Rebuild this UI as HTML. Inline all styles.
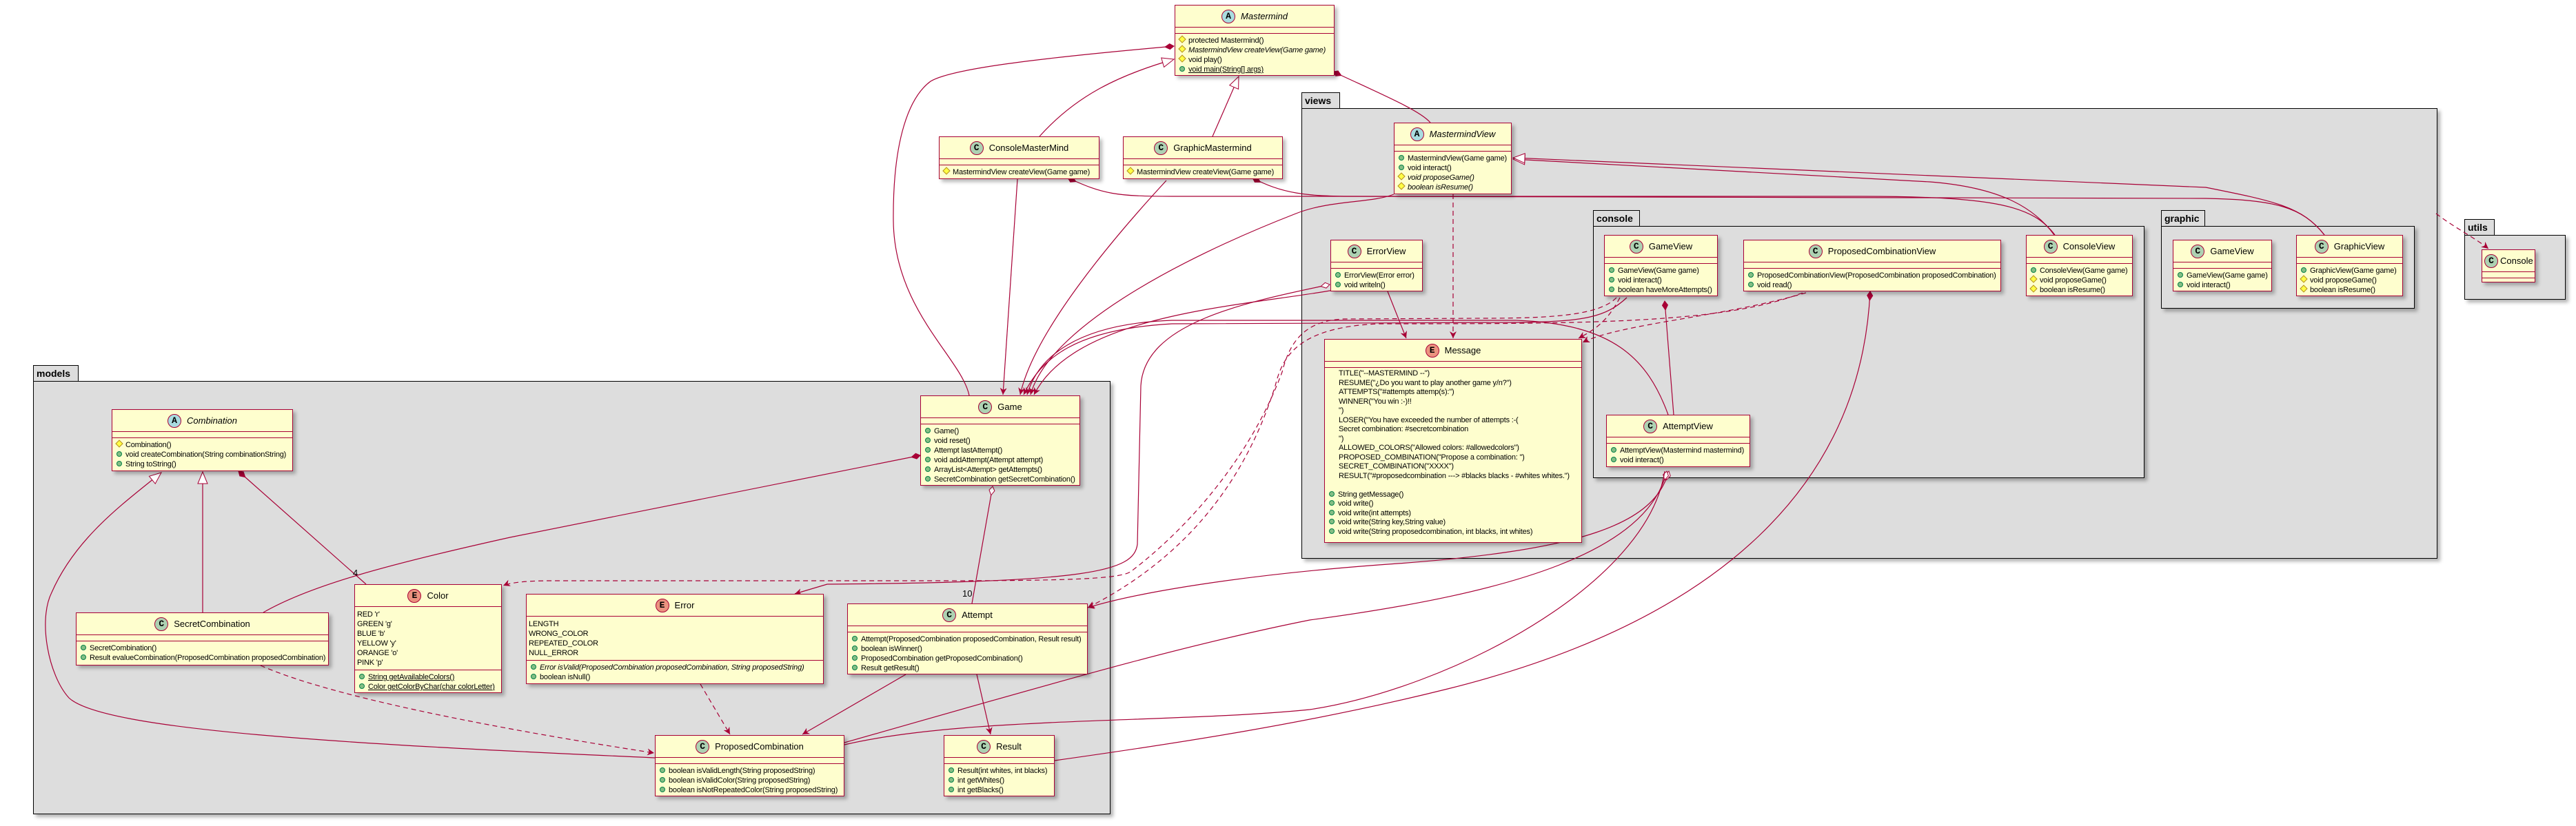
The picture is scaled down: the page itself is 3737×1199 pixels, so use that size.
<!DOCTYPE html>
<html><head><meta charset="utf-8"><style>
body{margin:0;width:3737px;height:1199px;background:#fff;position:relative;overflow:hidden;font-family:"Liberation Sans",sans-serif}
.p{position:absolute;background:#DDDDDD;border:1.5px solid #000;box-shadow:4px 4px 5px rgba(0,0,0,.3);box-sizing:border-box}
.t{position:absolute;background:#DDDDDD;border:1.5px solid #000;border-bottom:none;box-sizing:border-box;font:bold 14px "Liberation Sans",sans-serif;padding:3px 0 0 4px;height:24px}
.c{position:absolute;background:#FEFECE;border:1.5px solid #A80036;box-shadow:4px 4px 5px rgba(0,0,0,.28);box-sizing:border-box;font-size:11px;color:#000}
.h{height:31px;display:flex;align-items:center;justify-content:center;font-size:13px;border-bottom:1.5px solid #A80036;white-space:nowrap}
.h.it span{font-style:italic}
.ic{width:20px;height:20px;border-radius:50%;border:1px solid #A80036;font:bold 13px "Liberation Mono",monospace;display:inline-flex;align-items:center;justify-content:center;margin-right:8px;box-sizing:border-box}
.A{background:#A9DCDF}.C{background:#ADD1B2}.E{background:#EB937F}
.e{height:8px;border-bottom:1.5px solid #A80036}
.m{padding:3px 4px 2px 6px}
.r{height:14px;line-height:14px;white-space:nowrap;letter-spacing:-0.2px}
.msg .r{height:13.5px;line-height:13.5px}
.it2{font-style:italic}
.u{text-decoration:underline}
i.g{display:inline-block;width:6px;height:6px;border-radius:50%;background:#84BE84;border:1px solid #038048;margin-right:5px;vertical-align:0px}
i.y{display:inline-block;width:6px;height:6px;background:#FFFF44;border:1px solid #B38D22;transform:rotate(45deg);margin-right:5px;vertical-align:1px}
.sep{border-bottom:1.5px solid #A80036}
svg{position:absolute;left:0;top:0}
</style></head><body>

<div class="t" style="left:1888px;top:134px;width:56px">views</div>
<div class="p" style="left:1888px;top:157px;width:1648px;height:654px"></div>
<div class="t" style="left:2311px;top:305px;width:68px">console</div>
<div class="p" style="left:2311px;top:328px;width:800px;height:366px"></div>
<div class="t" style="left:3135px;top:305px;width:64px">graphic</div>
<div class="p" style="left:3135px;top:328px;width:368px;height:120px"></div>
<div class="t" style="left:3575px;top:318px;width:44px">utils</div>
<div class="p" style="left:3575px;top:341px;width:147px;height:94px"></div>
<div class="t" style="left:48px;top:530px;width:66px">models</div>
<div class="p" style="left:48px;top:553px;width:1563px;height:629px"></div>

<svg width="3737" height="1199" viewBox="0 0 3737 1199">
<defs>
<marker id="ar" markerUnits="userSpaceOnUse" markerWidth="12" markerHeight="10" refX="10" refY="5" orient="auto"><path d="M0,0 L10,5 L0,10 L3,5 z" fill="#A80036"/></marker>
<marker id="df" markerUnits="userSpaceOnUse" markerWidth="16" markerHeight="10" refX="1" refY="5" orient="auto"><path d="M1,5 L7,1 L14,5 L7,9 z" fill="#A80036" stroke="#A80036"/></marker>
<marker id="dh" markerUnits="userSpaceOnUse" markerWidth="16" markerHeight="10" refX="1" refY="5" orient="auto"><path d="M1,5 L7,1 L14,5 L7,9 z" fill="#fff" stroke="#A80036"/></marker>
<marker id="tr" markerUnits="userSpaceOnUse" markerWidth="20" markerHeight="16" refX="18" refY="8" orient="auto"><path d="M1,1 L18,8 L1,15 z" fill="#fff" stroke="#A80036"/></marker>
</defs>
<g fill="none" stroke="#A80036" stroke-width="1.2">
<path marker-start="url(#df)" d="M1703,67 C1500,85 1380,100 1350,118 C1320,140 1295,200 1296,320 C1297,450 1395,520 1406,574"/>
<path marker-start="url(#df)" d="M1934,104 C2000,135 2060,160 2075,178"/>
<path marker-end="url(#tr)" d="M1508,198 C1560,140 1620,110 1703,86"/>
<path marker-end="url(#tr)" d="M1759,198 L1797,111"/>
<path marker-end="url(#ar)" d="M1476,260 L1455,573"/>
<path marker-end="url(#ar)" d="M1692,262 C1620,340 1500,480 1480,573"/>
<path marker-start="url(#df)" d="M1549,258 C1600,282 1620,285 1700,285 L2700,285 C2900,285 2950,300 2981,341"/>
<path marker-start="url(#df)" d="M1817,258 C1860,282 1900,284 1950,285 L3200,288 C3300,290 3340,300 3372,341"/>
<path marker-end="url(#tr)" d="M2980,341 C2950,300 2900,272 2800,264 L2195,231"/>
<path marker-end="url(#tr)" d="M3372,341 C3340,300 3300,292 3200,272 L2195,229"/>
<path marker-end="url(#ar)" d="M2022,282 C1990,295 1930,290 1880,310 C1700,380 1520,480 1495,573"/>
<path marker-start="url(#dh)" marker-end="url(#ar)" d="M1929,413 C1800,440 1660,470 1655,560 L1650,790 C1645,830 1580,845 1200,848 L1153,862"/>
<path marker-end="url(#ar)" d="M2013,423 L2040,491"/>
<path marker-end="url(#ar)" d="M2420,602 C2390,520 2340,470 2200,465 L1700,465 C1560,470 1505,520 1490,573"/>
<path marker-end="url(#ar)" d="M2360,432 C2330,460 2300,467 2200,468 L1700,470 C1560,478 1510,520 1485,573"/>
<path marker-end="url(#ar)" d="M1935,421 C1800,445 1560,455 1500,573"/>
<path marker-start="url(#df)" d="M2415,437 L2428,602"/>
<path marker-start="url(#dh)" marker-end="url(#ar)" d="M2421,684 C2400,760 2300,800 2000,820 C1800,835 1650,860 1578,882"/>
<path marker-start="url(#dh)" d="M2418,684 C2390,800 2200,860 1900,900 C1700,940 1500,1000 1225,1078"/>
<path d="M2415,684 C2390,850 2100,1000 1900,1030 C1700,1050 1400,1040 1225,1081"/>
<path marker-start="url(#df)" d="M2713,423 C2700,700 2500,900 2100,1000 C1900,1050 1700,1080 1530,1104"/>
<path marker-end="url(#tr)" d="M294,889 L294,685"/>
<path marker-end="url(#tr)" d="M950,1100 C500,1080 150,1060 100,1013 C70,980 55,900 75,860 C110,780 180,730 234,686"/>
<path marker-start="url(#df)" d="M346,684 L531,848"/>
<path marker-start="url(#df)" d="M1335,661 L740,780 C560,820 450,850 382,889"/>
<path marker-start="url(#dh)" d="M1440,706 L1410,876"/>
<path marker-end="url(#ar)" d="M1314,979 L1164,1066"/>
<path marker-end="url(#ar)" d="M1417,979 L1437,1066"/>
</g>
<g fill="none" stroke="#A80036" stroke-width="1.2" stroke-dasharray="7,5">
<path marker-end="url(#ar)" d="M2108,282 L2108,491"/>
<path marker-end="url(#ar)" d="M2350,432 C2330,470 2310,480 2290,491"/>
<path marker-end="url(#ar)" d="M2620,425 C2500,460 2350,470 2296,497"/>
<path marker-end="url(#ar)" d="M2345,432 C2320,458 2250,462 2150,462 L1950,463 C1890,465 1870,500 1860,540 C1800,700 1680,800 1640,830 C1620,843 1500,843 1300,843 L800,843 C760,843 740,846 730,850"/>
<path marker-end="url(#ar)" d="M2615,425 C2500,470 2300,470 2000,470 C1880,475 1860,520 1850,560 C1800,720 1700,820 1578,882"/>
<path marker-end="url(#ar)" d="M1016,993 L1059,1066"/>
<path marker-end="url(#ar)" d="M378,966 C500,1020 800,1070 949,1093"/>
<path marker-end="url(#ar)" d="M3534,310 C3560,330 3590,345 3610,361"/>
</g>
<text x="512" y="836" font-family="Liberation Sans" font-size="13">4</text>
<text x="1396" y="866" font-family="Liberation Sans" font-size="13">10</text>
</svg>

<div class="c" style="left:1704px;top:7px;width:232px;height:103px"><div class="h it"><b class="ic A">A</b><span>Mastermind</span></div><div class="e"></div><div class="m">
<div class="r"><i class="y"></i>protected Mastermind()</div>
<div class="r it2"><i class="y"></i>MastermindView createView(Game game)</div>
<div class="r"><i class="y"></i>void play()</div>
<div class="r"><i class="g"></i><span class="u">void main(String[] args)</span></div></div></div>

<div class="c" style="left:1362px;top:198px;width:233px;height:62px"><div class="h"><b class="ic C">C</b>ConsoleMasterMind</div><div class="e"></div><div class="m">
<div class="r"><i class="y"></i>MastermindView createView(Game game)</div></div></div>

<div class="c" style="left:1629px;top:198px;width:232px;height:62px"><div class="h"><b class="ic C">C</b>GraphicMastermind</div><div class="e"></div><div class="m">
<div class="r"><i class="y"></i>MastermindView createView(Game game)</div></div></div>

<div class="c" style="left:2022px;top:178px;width:171px;height:104px"><div class="h it"><b class="ic A">A</b><span>MastermindView</span></div><div class="e"></div><div class="m">
<div class="r"><i class="g"></i>MastermindView(Game game)</div>
<div class="r"><i class="g"></i>void interact()</div>
<div class="r it2"><i class="y"></i>void proposeGame()</div>
<div class="r it2"><i class="y"></i>boolean isResume()</div></div></div>

<div class="c" style="left:1930px;top:348px;width:134px;height:75px"><div class="h"><b class="ic C">C</b>ErrorView</div><div class="e"></div><div class="m">
<div class="r"><i class="g"></i>ErrorView(Error error)</div>
<div class="r"><i class="g"></i>void writeln()</div></div></div>

<div class="c" style="left:2327px;top:341px;width:165px;height:89px"><div class="h"><b class="ic C">C</b>GameView</div><div class="e"></div><div class="m">
<div class="r"><i class="g"></i>GameView(Game game)</div>
<div class="r"><i class="g"></i>void interact()</div>
<div class="r"><i class="g"></i>boolean haveMoreAttempts()</div></div></div>

<div class="c" style="left:2529px;top:348px;width:374px;height:75px"><div class="h"><b class="ic C">C</b>ProposedCombinationView</div><div class="e"></div><div class="m">
<div class="r"><i class="g"></i>ProposedCombinationView(ProposedCombination proposedCombination)</div>
<div class="r"><i class="g"></i>void read()</div></div></div>

<div class="c" style="left:2939px;top:341px;width:155px;height:89px"><div class="h"><b class="ic C">C</b>ConsoleView</div><div class="e"></div><div class="m">
<div class="r"><i class="g"></i>ConsoleView(Game game)</div>
<div class="r"><i class="y"></i>void proposeGame()</div>
<div class="r"><i class="y"></i>boolean isResume()</div></div></div>

<div class="c" style="left:3152px;top:348px;width:144px;height:75px"><div class="h"><b class="ic C">C</b>GameView</div><div class="e"></div><div class="m">
<div class="r"><i class="g"></i>GameView(Game game)</div>
<div class="r"><i class="g"></i>void interact()</div></div></div>

<div class="c" style="left:3331px;top:341px;width:155px;height:89px"><div class="h"><b class="ic C">C</b>GraphicView</div><div class="e"></div><div class="m">
<div class="r"><i class="g"></i>GraphicView(Game game)</div>
<div class="r"><i class="y"></i>void proposeGame()</div>
<div class="r"><i class="y"></i>boolean isResume()</div></div></div>

<div class="c" style="left:3600px;top:362px;width:78px;height:48px"><div class="h" style="justify-content:flex-start;padding-left:3px"><b class="ic C" style="margin-right:3px">C</b>Console</div><div class="e"></div></div>

<div class="c msg" style="left:1921px;top:492px;width:374px;height:296px"><div class="h"><b class="ic E">E</b>Message</div><div class="e"></div><div class="m" style="padding-top:2px">
<div style="padding-left:14px">
<div class="r">TITLE("--MASTERMIND --")</div>
<div class="r">RESUME("¿Do you want to play another game y/n?")</div>
<div class="r">ATTEMPTS("#attempts attemp(s):")</div>
<div class="r">WINNER("You win :-)!!</div>
<div class="r">")</div>
<div class="r">LOSER("You have exceeded the number of attempts :-(</div>
<div class="r">Secret combination: #secretcombination</div>
<div class="r">")</div>
<div class="r">ALLOWED_COLORS("Allowed colors: #allowedcolors")</div>
<div class="r">PROPOSED_COMBINATION("Propose a combination: ")</div>
<div class="r">SECRET_COMBINATION("XXXX")</div>
<div class="r">RESULT("#proposedcombination ---&gt; #blacks blacks - #whites whites.")</div>
<div class="r"></div></div>
<div class="r"><i class="g"></i>String getMessage()</div>
<div class="r"><i class="g"></i>void write()</div>
<div class="r"><i class="g"></i>void write(int attempts)</div>
<div class="r"><i class="g"></i>void write(String key,String value)</div>
<div class="r"><i class="g"></i>void write(String proposedcombination, int blacks, int whites)</div></div></div>

<div class="c" style="left:2330px;top:602px;width:209px;height:76px"><div class="h"><b class="ic C">C</b>AttemptView</div><div class="e"></div><div class="m">
<div class="r"><i class="g"></i>AttemptView(Mastermind mastermind)</div>
<div class="r"><i class="g"></i>void interact()</div></div></div>

<div class="c" style="left:162px;top:594px;width:263px;height:90px"><div class="h it"><b class="ic A">A</b><span>Combination</span></div><div class="e"></div><div class="m">
<div class="r"><i class="y"></i>Combination()</div>
<div class="r"><i class="g"></i>void createCombination(String combinationString)</div>
<div class="r"><i class="g"></i>String toString()</div></div></div>

<div class="c" style="left:514px;top:848px;width:214px;height:158px"><div class="h"><b class="ic E">E</b>Color</div><div class="m sep" style="padding:4px 4px 3px 3px">
<div class="r">RED 'r'</div><div class="r">GREEN 'g'</div><div class="r">BLUE 'b'</div><div class="r">YELLOW 'y'</div><div class="r">ORANGE 'o'</div><div class="r">PINK 'p'</div></div><div class="m">
<div class="r"><i class="g"></i><span class="u">String getAvailableColors()</span></div>
<div class="r"><i class="g"></i><span class="u">Color getColorByChar(char colorLetter)</span></div></div></div>

<div class="c" style="left:110px;top:889px;width:367px;height:77px"><div class="h"><b class="ic C">C</b>SecretCombination</div><div class="e"></div><div class="m">
<div class="r"><i class="g"></i>SecretCombination()</div>
<div class="r"><i class="g"></i>Result evalueCombination(ProposedCombination proposedCombination)</div></div></div>

<div class="c" style="left:763px;top:862px;width:432px;height:131px"><div class="h"><b class="ic E">E</b>Error</div><div class="m sep" style="padding:4px 4px 3px 3px">
<div class="r">LENGTH</div><div class="r">WRONG_COLOR</div><div class="r">REPEATED_COLOR</div><div class="r">NULL_ERROR</div></div><div class="m">
<div class="r it2"><i class="g"></i>Error isValid(ProposedCombination proposedCombination, String proposedString)</div>
<div class="r"><i class="g"></i>boolean isNull()</div></div></div>

<div class="c" style="left:1229px;top:876px;width:349px;height:103px"><div class="h"><b class="ic C">C</b>Attempt</div><div class="e"></div><div class="m">
<div class="r"><i class="g"></i>Attempt(ProposedCombination proposedCombination, Result result)</div>
<div class="r"><i class="g"></i>boolean isWinner()</div>
<div class="r"><i class="g"></i>ProposedCombination getProposedCombination()</div>
<div class="r"><i class="g"></i>Result getResult()</div></div></div>

<div class="c" style="left:1335px;top:574px;width:232px;height:131px"><div class="h"><b class="ic C">C</b>Game</div><div class="e"></div><div class="m">
<div class="r"><i class="g"></i>Game()</div>
<div class="r"><i class="g"></i>void reset()</div>
<div class="r"><i class="g"></i>Attempt lastAttempt()</div>
<div class="r"><i class="g"></i>void addAttempt(Attempt attempt)</div>
<div class="r"><i class="g"></i>ArrayList&lt;Attempt&gt; getAttempts()</div>
<div class="r"><i class="g"></i>SecretCombination getSecretCombination()</div></div></div>

<div class="c" style="left:950px;top:1067px;width:275px;height:89px"><div class="h"><b class="ic C">C</b>ProposedCombination</div><div class="e"></div><div class="m">
<div class="r"><i class="g"></i>boolean isValidLength(String proposedString)</div>
<div class="r"><i class="g"></i>boolean isValidColor(String proposedString)</div>
<div class="r"><i class="g"></i>boolean isNotRepeatedColor(String proposedString)</div></div></div>

<div class="c" style="left:1369px;top:1067px;width:161px;height:89px"><div class="h"><b class="ic C">C</b>Result</div><div class="e"></div><div class="m">
<div class="r"><i class="g"></i>Result(int whites, int blacks)</div>
<div class="r"><i class="g"></i>int getWhites()</div>
<div class="r"><i class="g"></i>int getBlacks()</div></div></div>

</body></html>
